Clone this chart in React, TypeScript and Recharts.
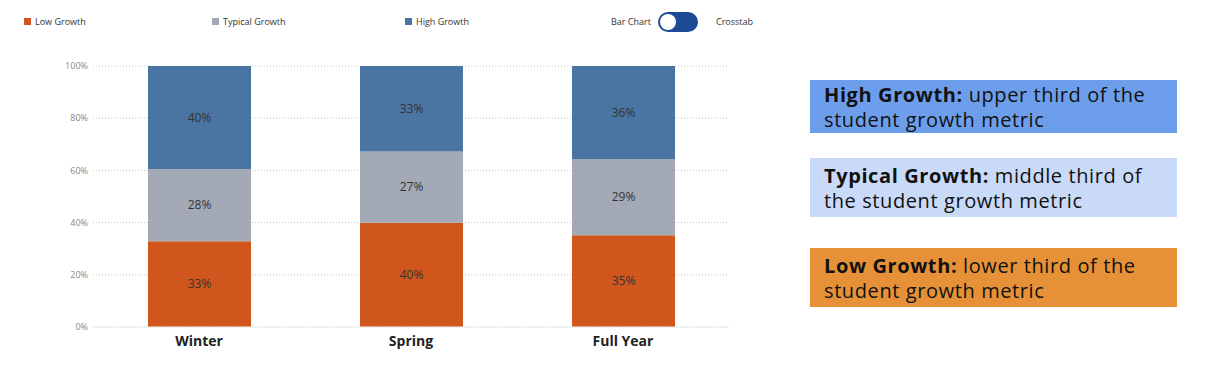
import { BarChart, Bar, XAxis, YAxis, CartesianGrid, LabelList } from 'recharts'

// (percent of students)
const terms = ['Winter', 'Spring', 'Full Year']
const lowGrowth = [32.9, 39.9, 35.2]
const typicalGrowth = [27.6, 27.3, 29.2]
const highGrowth = [39.5, 32.8, 35.6]
const yTicks = [0, 20, 40, 60, 80, 100]

const LOW = '#d1561d'
const TYPICAL = '#a3aab6'
const HIGH = '#4a75a3'

const chartData = terms.map((term, i) => ({
    term,
    low: lowGrowth[i],
    typical: typicalGrowth[i],
    high: highGrowth[i],
}))

const legendItems = [
    { label: 'Low Growth', color: LOW, x: 24 },
    { label: 'Typical Growth', color: TYPICAL, x: 212 },
    { label: 'High Growth', color: HIGH, x: 405 },
]

const notes = [
    { title: 'High Growth:', line1: ' upper third of the', line2: 'student growth metric', bg: '#6d9eeb', top: 80, height: 53, pad: 2 },
    { title: 'Typical Growth:', line1: ' middle third of', line2: 'the student growth metric', bg: '#c9daf8', top: 158, height: 59, pad: 5 },
    { title: 'Low Growth:', line1: ' lower third of the', line2: 'student growth metric', bg: '#e69138', top: 248, height: 59, pad: 5 },
]

const pct = (v: number) => `${Math.round(v)}%`
const small = { fontFamily: '"Open Sans", sans-serif', fontSize: 9, color: '#333' }

export default function App() {
    return (
        <div style={{ position: 'absolute', left: 0, top: 0, width: 1212, height: 372, background: '#fff', overflow: 'hidden' }}>
            {legendItems.map((item) => (
                <div key={item.label} style={{ position: 'absolute', left: item.x, top: 15, display: 'flex', alignItems: 'center', ...small }}>
                    <span style={{ width: 7, height: 7, background: item.color, display: 'inline-block', marginRight: 4 }} />
                    {item.label}
                </div>
            ))}
            <div style={{ position: 'absolute', left: 611, top: 15, ...small }}>Bar Chart</div>
            <div style={{ position: 'absolute', left: 658, top: 12, width: 40, height: 20, borderRadius: 10, background: '#1c4a94', boxSizing: 'border-box' }}>
                <div style={{ position: 'absolute', left: 2, top: 2, width: 16, height: 16, borderRadius: 8, background: '#fff' }} />
            </div>
            <div style={{ position: 'absolute', left: 716, top: 15, ...small }}>Crosstab</div>

            <div style={{ position: 'absolute', left: 0, top: 0 }}>
                <BarChart width={740} height={372} data={chartData} margin={{ top: 66, right: 11, left: 0, bottom: 0 }}>
                    <CartesianGrid vertical={false} stroke="#c8c8c8" strokeDasharray="1 2" />
                    <XAxis
                        dataKey="term"
                        height={45}
                        tickSize={0}
                        tickMargin={9}
                        axisLine={{ stroke: '#eeeeee' }}
                        tick={{ fontSize: 14, fontWeight: 700, fill: '#222', fontFamily: '"Open Sans", sans-serif' }}
                    />
                    <YAxis
                        type="number"
                        domain={[0, 100]}
                        ticks={yTicks}
                        width={93}
                        tickSize={0}
                        tickMargin={5}
                        axisLine={false}
                        tickFormatter={(v) => `${v}%`}
                        tick={{ fontSize: 9, fill: '#888', fontFamily: '"Open Sans", sans-serif' }}
                    />
                    <Bar dataKey="low" stackId="g" fill={LOW} barSize={103} isAnimationActive={false}>
                        <LabelList dataKey="low" position="center" formatter={pct} fill="#333" fontSize={12} fontFamily='"Open Sans", sans-serif' />
                    </Bar>
                    <Bar dataKey="typical" stackId="g" fill={TYPICAL} barSize={103} isAnimationActive={false}>
                        <LabelList dataKey="typical" position="center" formatter={pct} fill="#333" fontSize={12} fontFamily='"Open Sans", sans-serif' />
                    </Bar>
                    <Bar dataKey="high" stackId="g" fill={HIGH} barSize={103} isAnimationActive={false}>
                        <LabelList dataKey="high" position="center" formatter={pct} fill="#333" fontSize={12} fontFamily='"Open Sans", sans-serif' />
                    </Bar>
                </BarChart>
            </div>

            {notes.map((n) => (
                <div
                    key={n.title}
                    style={{
                        position: 'absolute',
                        left: 810,
                        top: n.top,
                        width: 367,
                        height: n.height,
                        background: n.bg,
                        boxSizing: 'border-box',
                        padding: `${n.pad}px 0 0 14px`,
                        fontFamily: '"Open Sans", sans-serif',
                        fontSize: 20,
                        lineHeight: '25px',
                        letterSpacing: 0.6,
                        color: '#111',
                        whiteSpace: 'nowrap',
                    }}
                >
                    <b>{n.title}</b>{n.line1}
                    <br />
                    {n.line2}
                </div>
            ))}
        </div>
    )
}
